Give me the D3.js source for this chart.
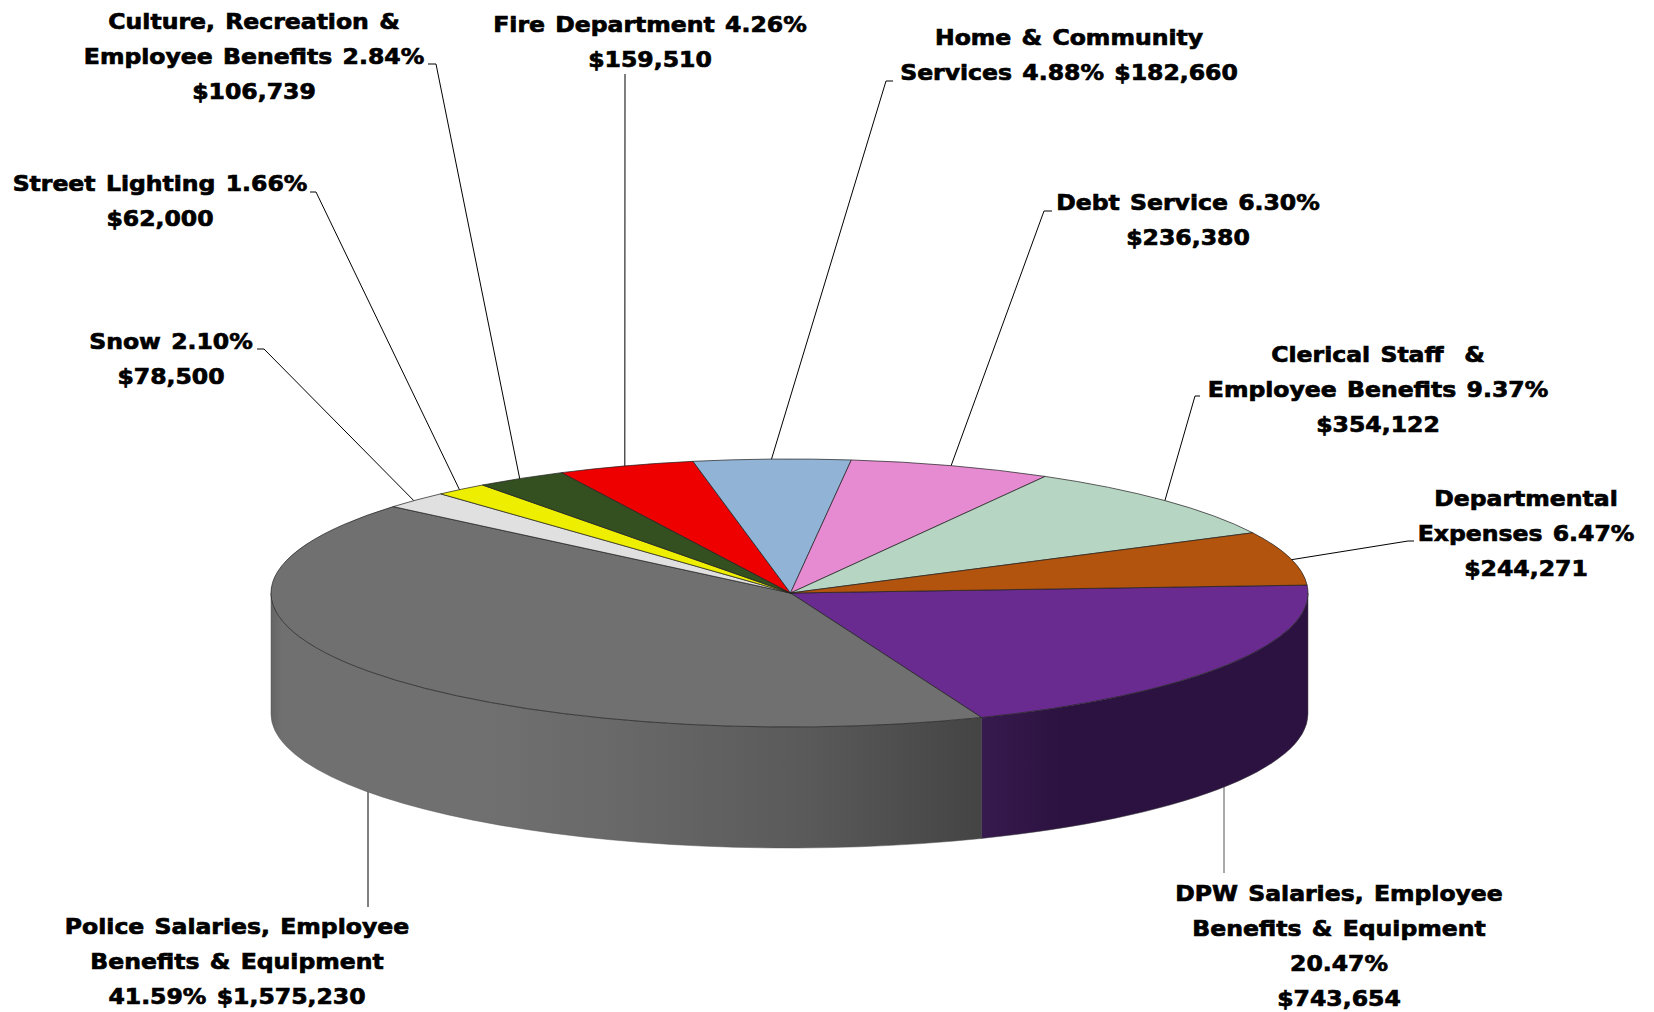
<!DOCTYPE html>
<html>
<head>
<meta charset="utf-8">
<script src="https://cdn.jsdelivr.net/npm/d3@7"></script>
<style>
  html, body { margin: 0; padding: 0; background: #fff; }
  svg { display: block; }
  .lbl { font-family: "DejaVu Sans", sans-serif; font-weight: 700; font-size: 22px; word-spacing: 2px; fill: #000; stroke: #000; stroke-width: 0.7px; }
</style>
</head>
<body>
<div id="chart"></div>
<script>
// data, clockwise from the right edge of the pie
const categories = ["DPW", "Police", "Snow", "Street Lighting", "Culture", "Fire", "Home", "Debt", "Clerical", "Departmental"];
const percents = [20.47, 41.59, 2.10, 1.66, 2.84, 4.26, 4.88, 6.30, 9.37, 6.47];
const colors = ["#692b90", "#707070", "#e0e0e0", "#eeee00", "#344f20", "#ee0000", "#91b4d6", "#e68bd1", "#b7d5c3", "#b3540e"];
const labelLines = [
  ["DPW Salaries, Employee", "Benefits & Equipment", "20.47%", "$743,654"],
  ["Police Salaries, Employee", "Benefits & Equipment", "41.59% $1,575,230"],
  ["Snow 2.10%", "$78,500"],
  ["Street Lighting 1.66%", "$62,000"],
  ["Culture, Recreation &", "Employee Benefits 2.84%", "$106,739"],
  ["Fire Department 4.26%", "$159,510"],
  ["Home & Community", "Services 4.88% $182,660"],
  ["Debt Service 6.30%", "$236,380"],
  ["Clerical Staff\u00a0 &", "Employee Benefits 9.37%", "$354,122"],
  ["Departmental", "Expenses 6.47%", "$244,271"]
];

// label layout: text centre, first baseline, leader elbow, leader end
const labelX = [1339, 237, 171, 160, 254, 650, 1069, 1188, 1378, 1526];
const labelY = [901, 934, 349, 191, 29, 32, 45, 210, 362, 506];
const elbows = [[1224, 873], [368, 907], [264, 349], [316, 192], [436, 64], [625, 74], [886, 81], [1044, 211], [1195, 396], [1408, 541]];
const stubs = [null, null, [257, 349], [310, 192], [428, 64], null, [893, 81], [1052, 211], [1200, 396], [1414, 541]];

const width = 1654, height = 1012;
const cx = 789.5, cy = 593, rx = 518.5, ry = 134, depth = 121;
const lineGap = 35;
const stretch = 1.07;

const svg = d3.select("#chart").append("svg")
  .attr("width", width)
  .attr("height", height);

// unit circle -> picture
const x = d3.scaleLinear().domain([-1, 1]).range([cx - rx, cx + rx]);
const y = d3.scaleLinear().domain([-1, 1]).range([cy - ry, cy + ry]);

const startDeg = -3.4;
const pie = d3.pie().sort(null).value(d => d)
  .startAngle(startDeg * Math.PI / 180)
  .endAngle((startDeg + 360) * Math.PI / 180);
const slices = pie(percents);

// the original has some perspective, the front slices come out a bit narrower
function warp(a) {
  return a - (2.2 * Math.PI / 180) * Math.max(0, Math.sin(a));
}
function pt(a, drop = 0) {
  const t = warp(a);
  return [x(Math.cos(t)), y(Math.sin(t)) + drop];
}
function topPath(d) {
  const p0 = pt(d.startAngle), p1 = pt(d.endAngle);
  const big = d.endAngle - d.startAngle > Math.PI ? 1 : 0;
  return `M${cx + 1},${cy}L${p0}A${rx},${ry} 0 ${big} 1 ${p1}Z`;
}
function sidePath(a0, a1) {
  const p0 = pt(a0), p1 = pt(a1), p2 = pt(a1, depth), p3 = pt(a0, depth);
  return `M${p0}A${rx},${ry} 0 0 1 ${p1}L${p2}A${rx},${ry} 0 0 0 ${p3}Z`;
}

const defs = svg.append("defs");
function sideGradient(id, x0, x1, stops) {
  const g = defs.append("linearGradient").attr("id", id)
    .attr("gradientUnits", "userSpaceOnUse")
    .attr("x1", x0).attr("x2", x1).attr("y1", 0).attr("y2", 0);
  stops.forEach(s => g.append("stop").attr("offset", s[0]).attr("stop-color", s[1]));
}
const frontEnd = pt(slices[0].endAngle)[0];
sideGradient("policeSide", cx - rx, frontEnd, [[0, "#656565"], [0.015, "#707070"], [0.3, "#707070"], [0.5, "#686868"], [0.75, "#5a5a5a"], [1, "#444444"]]);
sideGradient("dpwSide", frontEnd, cx + rx, [[0, "#371a4e"], [0.25, "#2b1240"], [1, "#2b1240"]]);

// leaders go under the pie
svg.append("g").selectAll("polyline")
  .data(slices)
  .join("polyline")
  .attr("fill", "none")
  .attr("stroke", (d, i) => i === 0 ? "#555" : "#000")
  .attr("stroke-width", 1)
  .attr("points", (d, i) => {
    const mid = (d.startAngle + d.endAngle) / 2;
    const front = Math.sin(warp(mid)) > 0;
    const start = front ? pt(mid, depth - 2) : pt(mid - 0.002, 2);
    // the bottom leaders run straight down
    const pts = [front ? [elbows[i][0], start[1]] : start, elbows[i]];
    if (stubs[i]) pts.push(stubs[i]);
    return pts.join(" ");
  });

// pie walls, only the two front slices show one
svg.append("path")
  .attr("d", sidePath(slices[0].endAngle, Math.PI))
  .attr("fill", "url(#policeSide)")
  .attr("stroke", "#555").attr("stroke-width", 0.5);
svg.append("path")
  .attr("d", sidePath(0, slices[0].endAngle))
  .attr("fill", "url(#dpwSide)")
  .attr("stroke", "#444").attr("stroke-width", 0.5);

// top face
svg.append("g").selectAll("path")
  .data(slices)
  .join("path")
  .attr("d", topPath)
  .attr("fill", (d, i) => colors[i])
  .attr("stroke", "#222")
  .attr("stroke-opacity", 0.8)
  .attr("stroke-width", 0.9)
  .attr("stroke-linejoin", "round");

// labels, the original face is wider than anything installed so stretch it
const labels = svg.append("g").selectAll("text")
  .data(labelLines)
  .join("text")
  .attr("class", "lbl")
  .attr("text-anchor", "middle")
  .attr("transform", (d, i) => `translate(${labelX[i]},${labelY[i]}) scale(${stretch},1)`);
labels.selectAll("tspan")
  .data(d => d)
  .join("tspan")
  .attr("x", 0)
  .attr("dy", (d, k) => k === 0 ? 0 : lineGap)
  .text(d => d);
</script>
</body>
</html>
